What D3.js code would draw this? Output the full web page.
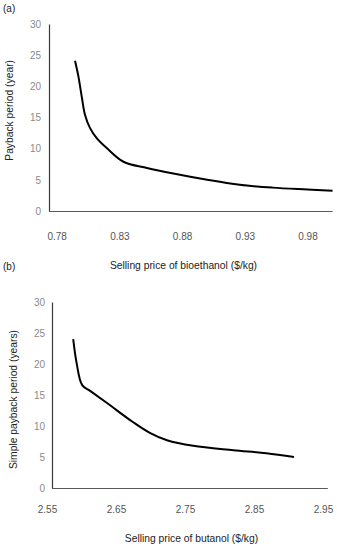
<!DOCTYPE html>
<html>
<head>
<meta charset="utf-8">
<script src="https://cdn.jsdelivr.net/npm/d3@7"></script>
<style>
  html, body { margin: 0; padding: 0; background: #fff; }
  svg { display: block; font-family: "Liberation Sans", Arial, sans-serif; }
</style>
</head>
<body>
<svg id="chart" width="337" height="550"></svg>
<script>
// ---- Data ----
// Panel (a): bioethanol
const priceEthanol = [0.7946, 0.7973, 0.8000, 0.8026, 0.8066, 0.8119, 0.8199, 0.8332, 0.852, 0.873, 0.90, 0.926, 0.952, 0.98, 1.0];
const paybackEthanol = [24.1, 21.6, 18.3, 15.4, 13.3, 11.7, 10.1, 7.9, 6.9, 6.0, 5.0, 4.2, 3.75, 3.45, 3.25];
const ethanolTicks = [0.78, 0.83, 0.88, 0.93, 0.98];

// Panel (b): butanol
const priceButanol = [2.588, 2.593, 2.601, 2.612, 2.637, 2.675, 2.699, 2.724, 2.762, 2.82, 2.868, 2.908];
const paybackButanol = [24.0, 20.1, 16.6, 15.7, 13.7, 10.6, 8.9, 7.7, 6.8, 6.1, 5.6, 5.0];
const butanolTicks = [2.55, 2.65, 2.75, 2.85, 2.95];

const yTicks = [0, 5, 10, 15, 20, 25, 30];

const panels = [
  { tag: "(a)", xTitle: "Selling price of bioethanol ($/kg)", yTitle: "Payback period (year)",
    xs: priceEthanol, ys: paybackEthanol, xTicks: ethanolTicks, fmt: d3.format(".2f"),
    xDomain: [0.78, 0.98], xRange: [56.7, 307.5], xEnd: 1.0,
    axisX: 49, top: 24, bottom: 211, yPad: 8, tickY: 233,
    tagPos: [3, 12], xTitlePos: [183.5, 269], yTitlePos: [13, 60] },
  { tag: "(b)", xTitle: "Selling price of butanol ($/kg)", yTitle: "Simple payback period (years)",
    xs: priceButanol, ys: paybackButanol, xTicks: butanolTicks, fmt: d3.format(".2f"),
    xDomain: [2.55, 2.95], xRange: [47, 323], xEnd: 2.957,
    axisX: 52, top: 302, bottom: 488, yPad: 7, tickY: 506,
    tagPos: [3, 270], xTitlePos: [191.5, 542], yTitlePos: [17, 330] }
];

const svg = d3.select("#chart");

panels.forEach(p => {
  const x = d3.scaleLinear().domain(p.xDomain).range(p.xRange);
  const y = d3.scaleLinear().domain([0, 30]).range([p.bottom, p.top]);
  const g = svg.append("g");

  // panel tag
  g.append("text").attr("x", p.tagPos[0]).attr("y", p.tagPos[1])
    .attr("font-size", 10).attr("fill", "#222").text(p.tag);

  // y axis
  const ya = g.append("g").attr("transform", `translate(${p.axisX},0)`)
    .call(d3.axisLeft(y).tickValues(yTicks).tickSize(0).tickPadding(p.yPad).tickSizeOuter(0));
  ya.select(".domain").attr("stroke", "#3a3a3a").attr("stroke-width", 1.2);
  ya.selectAll("text").attr("fill", "#8a8a8a").attr("font-size", 10)
    .attr("font-family", "'Liberation Sans', Arial, sans-serif");

  // x axis baseline
  g.append("line")
    .attr("x1", p.axisX).attr("x2", x(p.xEnd))
    .attr("y1", y(0) + 0.5).attr("y2", y(0) + 0.5)
    .attr("stroke", "#5a5a5a").attr("stroke-width", 1.2);

  // x tick labels
  const xa = g.append("g").attr("transform", `translate(0,${p.tickY})`)
    .call(d3.axisBottom(x).tickValues(p.xTicks).tickFormat(p.fmt).tickSize(0).tickPadding(0));
  xa.select(".domain").remove();
  xa.selectAll("text").attr("fill", "#555").attr("font-size", 10)
    .attr("font-family", "'Liberation Sans', Arial, sans-serif");

  // titles
  g.append("text").attr("x", p.xTitlePos[0]).attr("y", p.xTitlePos[1])
    .attr("text-anchor", "middle").attr("font-size", 10.3).attr("fill", "#222").text(p.xTitle);
  g.append("text")
    .attr("transform", `translate(${p.yTitlePos[0]},${p.yTitlePos[1]}) rotate(-90)`)
    .attr("text-anchor", "end").attr("font-size", 10.3).attr("fill", "#222").text(p.yTitle);

  // curve
  const pts = p.xs.map((v, i) => [v, p.ys[i]]);
  g.append("path").datum(pts)
    .attr("fill", "none").attr("stroke", "#000").attr("stroke-width", 2)
    .attr("stroke-linejoin", "round")
    .attr("d", d3.line().x(d => x(d[0])).y(d => y(d[1])).curve(d3.curveCatmullRom.alpha(0.5)));
});
</script>
</body>
</html>
